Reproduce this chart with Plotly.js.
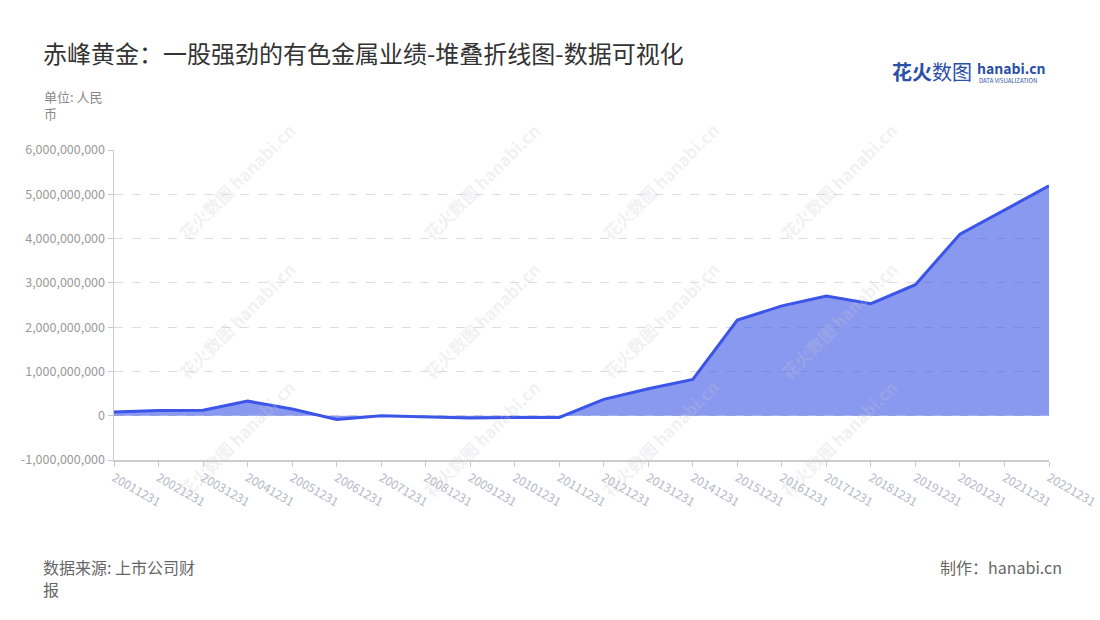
<!DOCTYPE html>
<html>
<head>
<meta charset="utf-8">
<script src="https://cdn.plot.ly/plotly-3.0.1.min.js"></script>
<style>
  html, body { margin: 0; padding: 0; background: #fff; }
  #chart { width: 1100px; height: 620px; }
</style>
</head>
<body>
<div id="chart"></div>
<script>
// Report dates (x categories)
const dates = [
  '20011231', '20021231', '20031231', '20041231', '20051231', '20061231',
  '20071231', '20081231', '20091231', '20101231', '20111231', '20121231',
  '20131231', '20141231', '20151231', '20161231', '20171231', '20181231',
  '20191231', '20201231', '20211231', '20221231'
];

// Revenue, RMB
const revenue = [
  85e6, 120e6, 125e6, 330e6, 150e6, -85e6,
  0, -30e6, -50e6, -40e6, -40e6, 370e6,
  610e6, 820e6, 2160e6, 2480e6, 2700e6, 2530e6,
  2960e6, 4100e6, 4640e6, 5190e6
];

const yTicks = [-1e9, 0, 1e9, 2e9, 3e9, 4e9, 5e9, 6e9];
const yTickText = yTicks.map(v => v.toLocaleString('en-US'));

const font = '"Noto Sans CJK SC", "Noto Sans", sans-serif';

const trace = {
  x: dates,
  y: revenue,
  type: 'scatter',
  mode: 'lines',
  fill: 'tozeroy',
  fillcolor: 'rgba(60, 85, 230, 0.6)',
  line: { color: '#3a55e8', width: 3 },
  hoverinfo: 'x+y'
};

// pixel -> paper helpers (plot area is 114..1049 x 150..460)
const px = v => (v - 114) / 935;
const py = v => (460 - v) / 310;

// faint diagonal watermark
const marks = [];
[170, 415, 660, 905].forEach(wx => {
  [115, 320, 505].forEach(wy => {
    marks.push({
      xref: 'paper', yref: 'paper', x: px(wx), y: py(wy),
      text: '<b>花火数图 hanabi.cn</b>',
      showarrow: false, textangle: -45,
      font: { family: font, size: 17, color: 'rgba(200,200,205,0.25)' }
    });
  });
});

function note(text, x, y, size, color, anchor) {
  return {
    xref: 'paper', yref: 'paper', x: px(x), y: py(y),
    xanchor: anchor || 'left', yanchor: 'middle', showarrow: false,
    borderpad: 0,
    text: text, font: { family: font, size: size, color: color }
  };
}

const layout = {
  width: 1100,
  height: 620,
  margin: { l: 114, r: 51, t: 150, b: 160 },
  paper_bgcolor: '#fff',
  plot_bgcolor: '#fff',
  showlegend: false,
  font: { family: font },
  title: {
    text: '赤峰黄金：一股强劲的有色金属业绩-堆叠折线图-数据可视化',
    x: 43 / 1100, xanchor: 'left',
    y: 1 - 55 / 620, yanchor: 'middle',
    font: { family: font, size: 24, color: '#333' }
  },
  xaxis: {
    type: 'category',
    range: [0, dates.length - 1],
    showgrid: false,
    showline: true,
    linecolor: '#ccc',
    linewidth: 1.5,
    ticks: 'outside',
    ticklen: 5,
    tickcolor: '#ccc',
    tickangle: 30,
    tickfont: { family: font, size: 12, color: '#b4b8c8' },
    zeroline: false
  },
  yaxis: {
    range: [-1e9, 6e9],
    tickvals: yTicks,
    ticktext: yTickText,
    showgrid: true,
    gridcolor: '#ddd',
    griddash: 'dash',
    showline: true,
    linecolor: '#ccc',
    linewidth: 1.5,
    ticks: 'outside',
    ticklen: 5,
    tickcolor: '#ccc',
    tickfont: { family: font, size: 12.5, color: '#999' },
    zeroline: false
  },
  annotations: marks.concat([
    note('单位: 人民', 43, 96, 13, '#888'),
    note('币', 43, 113, 13, '#888'),
    note('数据来源: 上市公司财', 42, 567, 16, '#666'),
    note('报', 42, 589, 16, '#666'),
    note('制作：hanabi.cn', 1063, 567, 16, '#666', 'right'),
    note('<b>花火</b>数图', 891, 72, 20, '#2a4fa8'),
    note('<b>hanabi.cn</b>', 976, 68, 14, '#2a4fa8'),
    note('DATA VISUALIZATION', 978, 80, 6, '#2a4fa8')
  ])
};

Plotly.newPlot('chart', [trace], layout, { displayModeBar: false, staticPlot: true });
</script>
</body>
</html>
